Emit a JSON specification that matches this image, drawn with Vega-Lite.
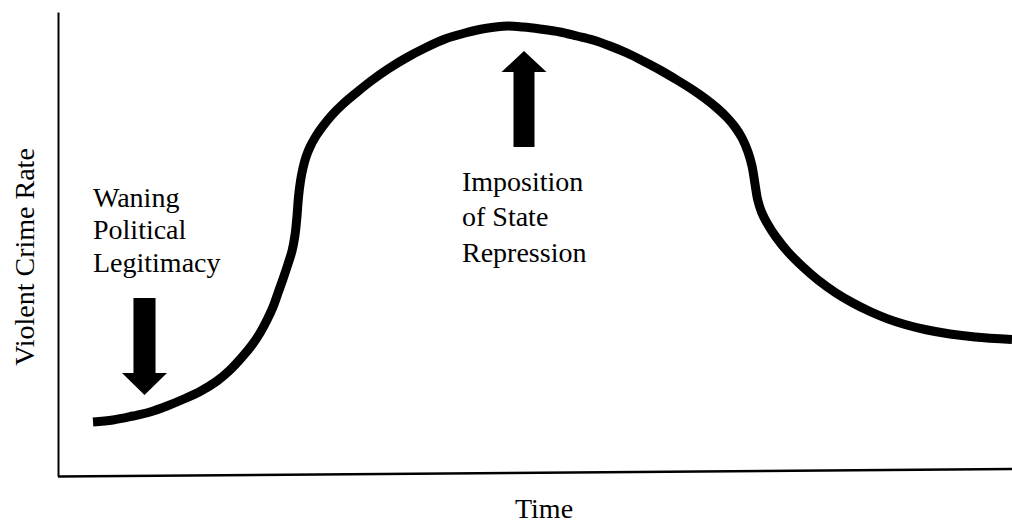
{
  "$schema": "https://vega.github.io/schema/vega-lite/v6.json",
  "width": 954,
  "height": 464,
  "autosize": {"type": "none"},
  "padding": {"left": 58, "top": 12, "right": 0, "bottom": 49},
  "background": "white",
  "config": {"view": {"stroke": null}},
  "datasets": {
    "curve": [
      {"x": 35, "y": 54}, {"x": 55, "y": 56}, {"x": 75, "y": 60}, {"x": 92, "y": 64},
      {"x": 109, "y": 70}, {"x": 127, "y": 77.5}, {"x": 142, "y": 84.5}, {"x": 159, "y": 95},
      {"x": 172, "y": 106}, {"x": 185, "y": 120}, {"x": 194, "y": 131}, {"x": 202, "y": 143},
      {"x": 209, "y": 156}, {"x": 215, "y": 169}, {"x": 220, "y": 183}, {"x": 225, "y": 197},
      {"x": 230, "y": 212}, {"x": 234, "y": 225}, {"x": 237, "y": 241}, {"x": 239, "y": 260},
      {"x": 240.5, "y": 279}, {"x": 242.5, "y": 295}, {"x": 245, "y": 308}, {"x": 248, "y": 319},
      {"x": 252, "y": 329}, {"x": 258, "y": 340}, {"x": 265, "y": 350}, {"x": 274, "y": 361},
      {"x": 285, "y": 372}, {"x": 298, "y": 383}, {"x": 313, "y": 395}, {"x": 330, "y": 407},
      {"x": 348, "y": 418}, {"x": 367, "y": 428}, {"x": 387, "y": 437}, {"x": 407, "y": 443},
      {"x": 427, "y": 447.5}, {"x": 450, "y": 450}, {"x": 465, "y": 449}, {"x": 482, "y": 447},
      {"x": 502, "y": 444}, {"x": 519, "y": 440}, {"x": 535, "y": 436}, {"x": 552, "y": 430},
      {"x": 569, "y": 423}, {"x": 585, "y": 415}, {"x": 602, "y": 406}, {"x": 619, "y": 396},
      {"x": 635, "y": 386}, {"x": 647, "y": 377.6}, {"x": 659, "y": 368}, {"x": 669, "y": 358.5},
      {"x": 677, "y": 349}, {"x": 684, "y": 338}, {"x": 690, "y": 324}, {"x": 694, "y": 310},
      {"x": 697, "y": 292}, {"x": 699.5, "y": 277}, {"x": 703.5, "y": 264}, {"x": 709, "y": 253},
      {"x": 718, "y": 239}, {"x": 730, "y": 224}, {"x": 745, "y": 209}, {"x": 760, "y": 196},
      {"x": 778, "y": 183}, {"x": 795, "y": 173}, {"x": 812, "y": 164.5}, {"x": 829, "y": 157.4},
      {"x": 847, "y": 151.5}, {"x": 867, "y": 146.5}, {"x": 892, "y": 142}, {"x": 917, "y": 139},
      {"x": 954, "y": 136.4}
    ],
    "baseline": [{"x": 0, "y": -0.5, "x2": 954, "y2": 7}],
    "arrows": [
      {"x": 86.5, "y": 129.5, "dir": "down"},
      {"x": 466, "y": 377, "dir": "up"}
    ],
    "notes": [
      {"x": 35, "y": 269.5, "group": "a", "label": "Waning\nPolitical\nLegitimacy"},
      {"x": 404, "y": 285.5, "group": "b", "label": "Imposition\nof State\nRepression"}
    ]
  },
  "layer": [
    {
      "data": {"name": "curve"},
      "mark": {"type": "line", "color": "black", "strokeWidth": 9, "interpolate": "catmull-rom", "strokeCap": "butt"},
      "encoding": {
        "x": {
          "field": "x", "type": "quantitative",
          "scale": {"domain": [0, 954], "nice": false, "zero": false},
          "axis": {
            "domain": false, "ticks": false, "labels": false, "grid": false,
            "title": "Time", "titleFont": "Liberation Serif, Times New Roman, serif", "titleFontSize": 28,
            "titleFontWeight": "normal", "titleColor": "black",
            "titleX": 485.5, "titleY": 41, "titleBaseline": "alphabetic", "titleAlign": "center"
          }
        },
        "y": {
          "field": "y", "type": "quantitative",
          "scale": {"domain": [0, 464], "nice": false, "zero": false},
          "axis": {
            "domain": true, "domainColor": "black", "domainWidth": 2,
            "ticks": false, "labels": false, "grid": false,
            "title": "Violent Crime Rate", "titleFont": "Liberation Serif, Times New Roman, serif", "titleFontSize": 28,
            "titleFontWeight": "normal", "titleColor": "black",
            "titleAngle": 270, "titleX": -25, "titleY": 244.5,
            "titleBaseline": "alphabetic", "titleAlign": "center"
          }
        }
      }
    },
    {
      "data": {"name": "baseline"},
      "mark": {"type": "rule", "color": "black", "strokeWidth": 2.5},
      "encoding": {
        "x": {"field": "x", "type": "quantitative"},
        "y": {"field": "y", "type": "quantitative"},
        "x2": {"field": "x2"},
        "y2": {"field": "y2"}
      }
    },
    {
      "data": {"name": "arrows"},
      "mark": {"type": "point", "filled": true, "color": "black", "opacity": 1, "size": 2025, "strokeWidth": 0},
      "encoding": {
        "x": {"field": "x", "type": "quantitative"},
        "y": {"field": "y", "type": "quantitative"},
        "shape": {
          "field": "dir", "type": "nominal", "legend": null,
          "scale": {
            "domain": ["down", "up"],
            "range": [
              "M-0.49,-2.156L0.49,-2.156L0.49,1.178L1,1.178L0,2.156L-1,1.178L-0.49,1.178Z",
              "M-0.467,2.133L0.467,2.133L0.467,-1.2L1,-1.2L0,-2.133L-1,-1.2L-0.467,-1.2Z"
            ]
          }
        }
      }
    },
    {
      "data": {"name": "notes"},
      "transform": [{"filter": "datum.group === 'a'"}],
      "mark": {"type": "text", "align": "left", "baseline": "alphabetic", "font": "Liberation Serif, Times New Roman, serif", "fontSize": 28, "lineBreak": "\n", "lineHeight": 32.5, "color": "black"},
      "encoding": {
        "x": {"field": "x", "type": "quantitative"},
        "y": {"field": "y", "type": "quantitative"},
        "text": {"field": "label"}
      }
    },
    {
      "data": {"name": "notes"},
      "transform": [{"filter": "datum.group === 'b'"}],
      "mark": {"type": "text", "align": "left", "baseline": "alphabetic", "font": "Liberation Serif, Times New Roman, serif", "fontSize": 28, "lineBreak": "\n", "lineHeight": 35.5, "color": "black"},
      "encoding": {
        "x": {"field": "x", "type": "quantitative"},
        "y": {"field": "y", "type": "quantitative"},
        "text": {"field": "label"}
      }
    }
  ]
}
